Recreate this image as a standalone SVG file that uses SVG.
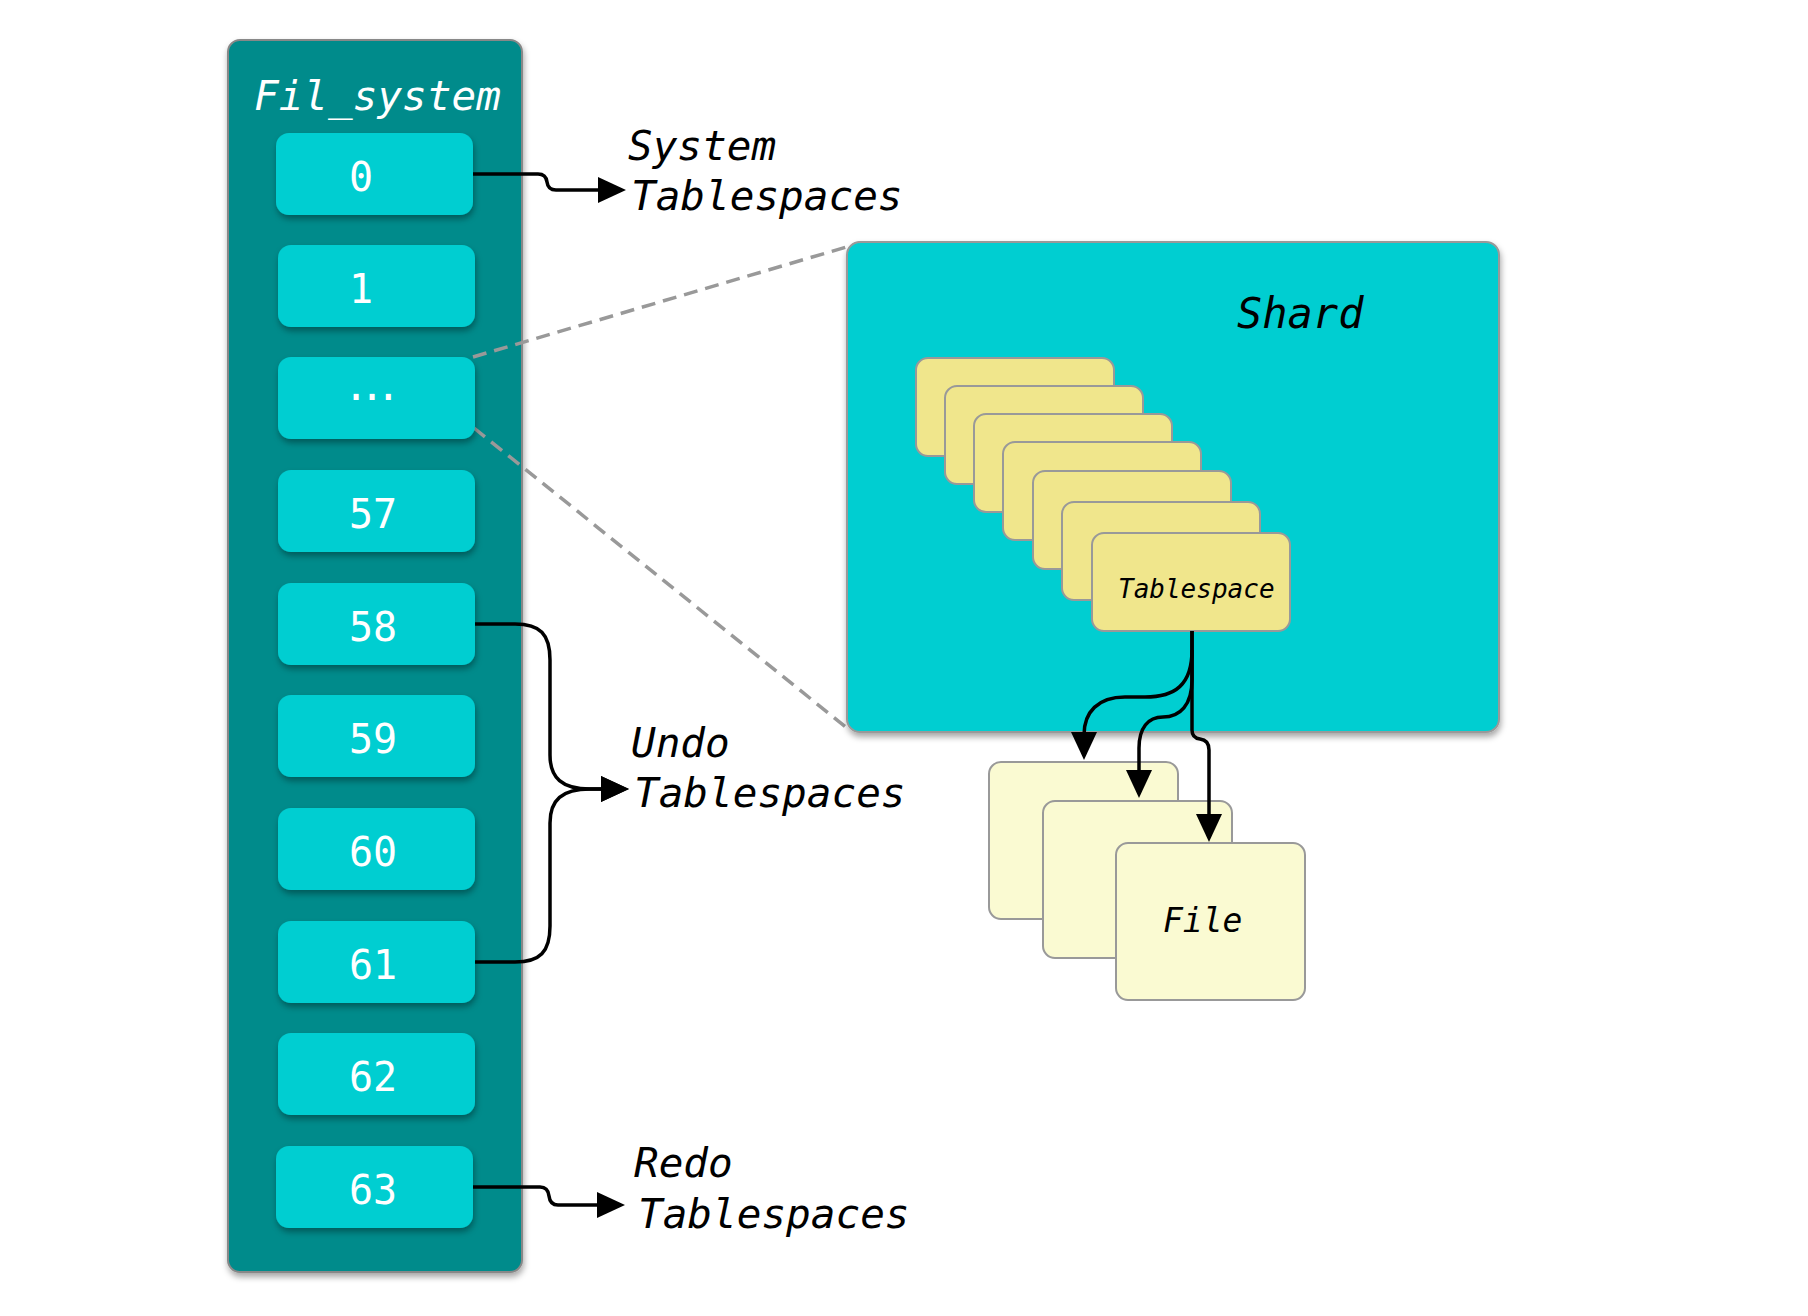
<svg xmlns="http://www.w3.org/2000/svg" width="1808" height="1316" viewBox="0 0 1808 1316">
<defs>
<filter id="sh" x="-10%" y="-10%" width="130%" height="140%">
<feDropShadow dx="1" dy="4" stdDeviation="3" flood-color="#000" flood-opacity="0.35"/>
</filter>
<marker id="ah" viewBox="0 0 28 26" refX="24" refY="13" markerWidth="28" markerHeight="26" markerUnits="userSpaceOnUse" orient="auto">
<path d="M0,0 L28,13 L0,26 Z" fill="#000"/>
</marker>
<style>
.mono{font-family:"DejaVu Sans Mono","Liberation Mono",monospace;}
.it{font-style:italic;}
.box{fill:#00CED1;filter:url(#sh);}
.num{fill:#fff;font-size:40px;}
.lbl{fill:#000;font-size:41px;}
.card{fill:#F0E68C;stroke:#999;stroke-width:2;}
.file{fill:#FAFAD2;stroke:#999;stroke-width:2;}
.con{fill:none;stroke:#000;stroke-width:3.5;marker-end:url(#ah);}
.dash{fill:none;stroke:#999;stroke-width:3.5;stroke-dasharray:14 8;}
</style>
</defs>
<rect width="1808" height="1316" fill="#fff"/>

<g id="fil_system">
<rect x="228" y="40" width="294" height="1232" rx="12" fill="#008B8B" stroke="#888" stroke-width="2" filter="url(#sh)"/>
<text class="mono it" x="254" y="110" fill="#fff" font-size="41">Fil_system</text>
</g>

<g id="dashes">
<path class="dash" d="M473,357 L860,243"/>
<path class="dash" d="M474,428 L847,728"/>
</g>

<g id="slot0"><rect class="box" x="276" y="133" width="197" height="82" rx="13"/><text class="mono num" x="349" y="191">0</text></g>
<g id="slot1"><rect class="box" x="278" y="245" width="197" height="82" rx="13"/><text class="mono num" x="349" y="303">1</text></g>
<g id="slotdots"><rect class="box" x="278" y="357" width="197" height="82" rx="13"/><text class="mono num" x="344" y="400" letter-spacing="-8">...</text></g>
<g id="slot57"><rect class="box" x="278" y="470" width="197" height="82" rx="13"/><text class="mono num" x="349" y="528">57</text></g>
<g id="slot58"><rect class="box" x="278" y="583" width="197" height="82" rx="13"/><text class="mono num" x="349" y="641">58</text></g>
<g id="slot59"><rect class="box" x="278" y="695" width="197" height="82" rx="13"/><text class="mono num" x="349" y="753">59</text></g>
<g id="slot60"><rect class="box" x="278" y="808" width="197" height="82" rx="13"/><text class="mono num" x="349" y="866">60</text></g>
<g id="slot61"><rect class="box" x="278" y="921" width="197" height="82" rx="13"/><text class="mono num" x="349" y="979">61</text></g>
<g id="slot62"><rect class="box" x="278" y="1033" width="197" height="82" rx="13"/><text class="mono num" x="349" y="1091">62</text></g>
<g id="slot63"><rect class="box" x="276" y="1146" width="197" height="82" rx="13"/><text class="mono num" x="349" y="1204">63</text></g>

<g id="label_system"><text class="mono it lbl" x="628" y="160">System</text><text class="mono it lbl" x="631" y="210">Tablespaces</text></g>
<g id="label_undo"><text class="mono it lbl" x="631" y="757">Undo</text><text class="mono it lbl" x="634" y="807">Tablespaces</text></g>
<g id="label_redo"><text class="mono it lbl" x="634" y="1177">Redo</text><text class="mono it lbl" x="638" y="1228">Tablespaces</text></g>

<g id="shard">
<rect x="847" y="242" width="652" height="490" rx="13" fill="#00CED1" stroke="#999" stroke-width="2" filter="url(#sh)"/>
<text class="mono it" x="1237" y="328" fill="#000" font-size="42">Shard</text>
</g>

<g id="tablespaces">
<rect class="card" x="916" y="358" width="198" height="98" rx="12"/>
<rect class="card" x="945" y="386" width="198" height="98" rx="12"/>
<rect class="card" x="974" y="414" width="198" height="98" rx="12"/>
<rect class="card" x="1003" y="442" width="198" height="98" rx="12"/>
<rect class="card" x="1033" y="471" width="198" height="98" rx="12"/>
<rect class="card" x="1062" y="502" width="198" height="98" rx="12"/>
<rect class="card" x="1092" y="533" width="198" height="98" rx="12"/>
<text class="mono it" x="1118" y="598" fill="#000" font-size="26">Tablespace</text>
</g>

<g id="files">
<rect class="file" x="989" y="762" width="189" height="157" rx="12"/>
<rect class="file" x="1043" y="801" width="189" height="157" rx="12"/>
<rect class="file" x="1116" y="843" width="189" height="157" rx="12"/>
<text class="mono it" x="1163" y="932" fill="#000" font-size="33">File</text>
</g>

<g id="connectors">
<path class="con" d="M473,174 H538 Q546,174 547,182 Q548,190 556,190 H622"/>
<path class="con" d="M475,624 H515 C540,624 550,634 550,660 V755 C550,778 562,789 590,789 H625"/>
<path class="con" d="M475,962 H515 C540,962 550,952 550,926 V823 C550,800 562,789 590,789 H625"/>
<path class="con" d="M473,1187 H540 Q548,1187 549,1196 Q550,1205 558,1205 H621"/>
<path class="con" d="M1192,631 V650 C1192,685 1175,697 1145,697 H1125 C1098,697 1084,712 1084,735 V756"/>
<path class="con" d="M1192,650 V680 C1192,705 1180,717 1163,717 C1148,717 1139,728 1139,748 V794"/>
<path class="con" d="M1192,631 V730 Q1192,738 1200,739 Q1209,740 1209,750 V838"/>
</g>
</svg>
